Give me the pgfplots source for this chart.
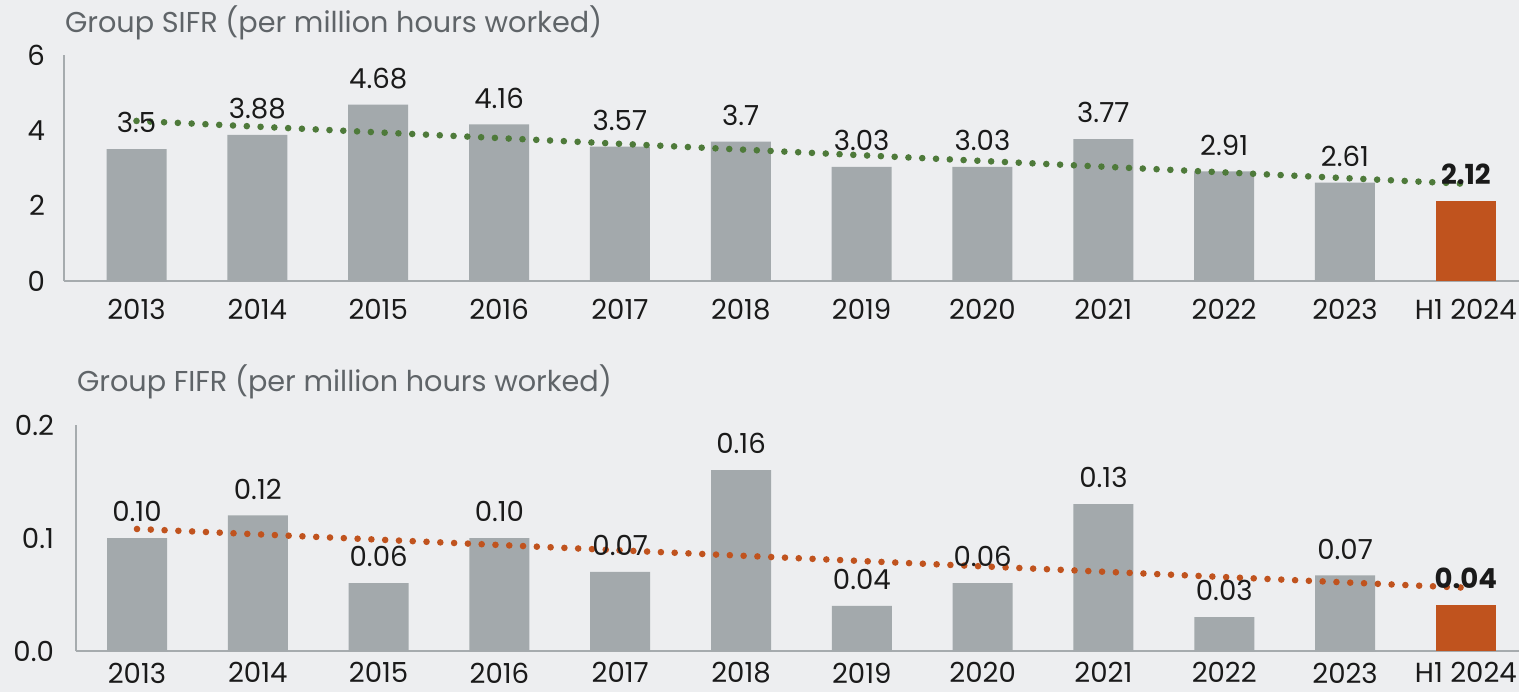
\documentclass[border=0pt]{standalone}
\usepackage{pgfplots}
\pgfplotsset{compat=1.18}
\usepackage{fontspec}
\setmainfont{Poppins}
\definecolor{bg}{HTML}{EDEEF0}
\definecolor{bargray}{HTML}{A3A9AC}
\definecolor{barorange}{HTML}{C0531E}
\definecolor{trendgreen}{HTML}{4E7A3A}
\definecolor{axisgray}{HTML}{A6ABAE}
\definecolor{titlegray}{HTML}{5F6468}
\definecolor{txt}{HTML}{1A1A1A}
\pgfplotsset{
  panel/.style={
    scale only axis, height=113pt,
    axis x line*=bottom, axis y line*=left,
    axis line style={draw=axisgray, line width=1pt},
    major tick length=0pt,
    ymin=0, clip=false,
    xtick={0,...,11},
    xticklabels={2013,2014,2015,2016,2017,2018,2019,2020,2021,2022,2023,H1 2024},
    ticklabel style={font=\fontsize{13.8}{15}\selectfont, text=txt},
    /pgf/number format/assume math mode=true,
    ybar, bar width=30pt, bar shift=0pt,
    title style={font=\fontsize{14.35}{16}\selectfont, text=titlegray, at={(0,1)}, anchor=west, xshift=-3pt},
    nodes near coords style={font=\fontsize{13.8}{15}\selectfont, text=txt, yshift=4.5pt},
  },
  trend/.style={sharp plot, no marks, line width=3.3pt, line cap=round, dash pattern=on 0pt off 6.9pt},
}
\begin{document}
\begin{tikzpicture}[x=1pt,y=1pt]
\fill[bg] (0,0) rectangle (759.5,-346);
\path[use as bounding box] (0,0) rectangle (759.5,-346);
\begin{axis}[panel, at={(32pt,-140.5pt)}, anchor=south west,
  width=727.5pt, xmin=-0.6, xmax=11.44, ymax=6, ytick={0,2,4,6},
  yticklabel style={xshift=-6pt}, xticklabel style={yshift=-5.5pt},
  title={Group SIFR (per million hours worked)}, title style={yshift=10pt}]
\addplot[fill=bargray, draw=none, nodes near coords, point meta=explicit symbolic]
  coordinates {(0,3.5)[3.5] (1,3.88)[3.88] (2,4.68)[4.68] (3,4.16)[4.16] (4,3.57)[3.57]
   (5,3.7)[3.7] (6,3.03)[3.03] (7,3.03)[3.03] (8,3.77)[3.77] (9,2.91)[2.91] (10,2.61)[2.61]};
\addplot[fill=barorange, draw=none, nodes near coords, point meta=explicit symbolic,
  nodes near coords style={font=\fontsize{13.8}{15}\selectfont\bfseries}]
  coordinates {(11,2.12)[2.12]};
\addplot[trend, color=trendgreen] coordinates {(0,4.25) (11,2.58)};
\end{axis}
\begin{axis}[panel, at={(38pt,-325.5pt)}, anchor=south west,
  width=721.5pt, xmin=-0.505, xmax=11.44, ymax=0.2, ytick={0,0.1,0.2},
  xticklabel style={yshift=-2.3pt},
  yticklabel style={xshift=-7.5pt, /pgf/number format/.cd, fixed, fixed zerofill, precision=1},
  title={Group FIFR (per million hours worked)}, title style={yshift=15.5pt}]
\addplot[fill=bargray, draw=none, nodes near coords, point meta=explicit symbolic]
  coordinates {(0,0.10)[0.10] (1,0.12)[0.12] (2,0.06)[0.06] (3,0.10)[0.10] (4,0.07)[0.07]
   (5,0.16)[0.16] (6,0.04)[0.04] (7,0.06)[0.06] (8,0.13)[0.13] (9,0.03)[0.03] (10,0.067)[0.07]};
\addplot[fill=barorange, draw=none, nodes near coords, point meta=explicit symbolic,
  nodes near coords style={font=\fontsize{13.8}{15}\selectfont\bfseries}]
  coordinates {(11,0.041)[0.04]};
\addplot[trend, color=barorange] coordinates {(0,0.108) (11,0.056)};
\end{axis}
\end{tikzpicture}
\end{document}
